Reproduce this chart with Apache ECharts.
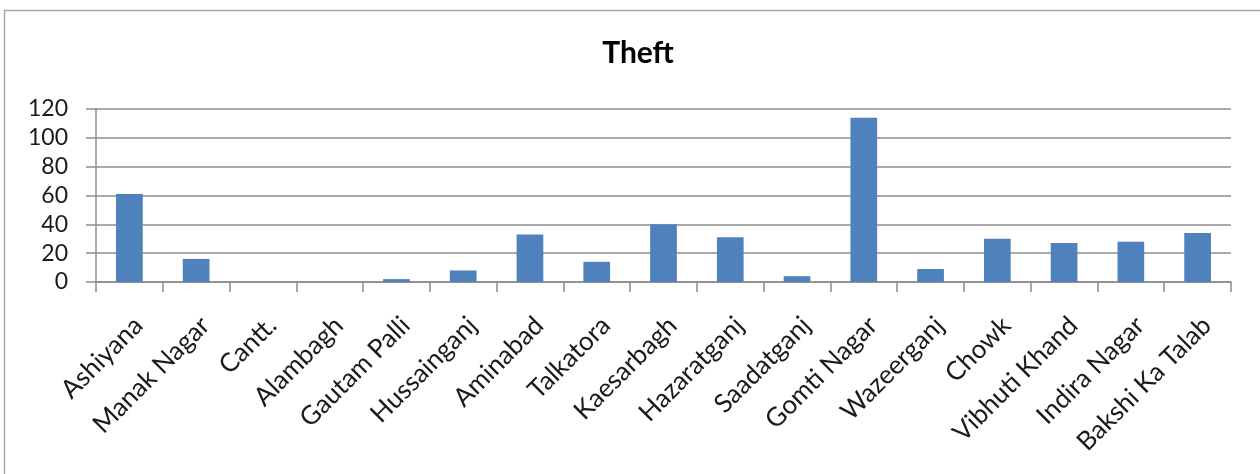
<!DOCTYPE html>
<html>
<head>
<meta charset="utf-8">
<script src="https://cdn.jsdelivr.net/npm/echarts@6/dist/echarts.min.js"></script>
<style>
  html, body { margin: 0; padding: 0; background: #fff; }
  #chart { width: 1260px; height: 474px; }
</style>
</head>
<body>
<div id="chart"></div>
<script>
// Police station areas and theft cases reported in each
const areas = [
  'Ashiyana', 'Manak Nagar', 'Cantt.', 'Alambagh', 'Gautam Palli', 'Hussainganj',
  'Aminabad', 'Talkatora', 'Kaesarbagh', 'Hazaratganj', 'Saadatganj', 'Gomti Nagar',
  'Wazeerganj', 'Chowk', 'Vibhuti Khand', 'Indira Nagar', 'Bakshi Ka Talab'
];
const theftCases = [61, 16, 0, 0, 2, 8, 33, 14, 40, 31, 4, 114, 9, 30, 27, 28, 34];
const yTicks = { min: 0, max: 120, step: 20 };

const FONT = 'Lato, "Open Sans", sans-serif';
const chart = echarts.init(document.getElementById('chart'), null, { renderer: 'canvas' });

chart.setOption({
  backgroundColor: '#ffffff',
  animation: false,
  graphic: [{
    type: 'rect',
    shape: { x: 4.5, y: 10.5, width: 1300, height: 500 },
    style: { fill: 'none', stroke: '#a6a6a6', lineWidth: 1.5 },
    silent: true,
    z: -1
  }],
  title: {
    text: 'Theft',
    left: 633,
    top: 33,
    textAlign: 'center',
    textStyle: { fontFamily: FONT, fontSize: 30, fontWeight: 'bold', color: '#000' }
  },
  grid: { left: 96, right: 29, top: 109, bottom: 192, containLabel: false },
  xAxis: {
    type: 'category',
    data: areas,
    axisLine: { lineStyle: { color: '#8c8c8c', width: 1.5 } },
    axisTick: { show: true, alignWithLabel: false, length: 10, lineStyle: { color: '#8c8c8c', width: 1.5 } },
    axisLabel: {
      interval: 0,
      rotate: 45,
      margin: 30,
      verticalAlign: 'top',
      fontFamily: FONT,
      fontSize: 26,
      color: '#1a1a1a'
    }
  },
  yAxis: {
    type: 'value',
    min: yTicks.min,
    max: yTicks.max,
    interval: yTicks.step,
    axisLine: { show: true, lineStyle: { color: '#8c8c8c', width: 1.5 } },
    axisTick: { show: true, length: 10, lineStyle: { color: '#8c8c8c', width: 1.5 } },
    splitLine: { lineStyle: { color: '#8c8c8c', width: 1.5 } },
    axisLabel: { margin: 28, fontFamily: FONT, fontSize: 23, color: '#1a1a1a' }
  },
  series: [{
    type: 'bar',
    data: theftCases,
    barCategoryGap: '60%',
    itemStyle: { color: '#4f81bd' }
  }]
});
</script>
</body>
</html>
